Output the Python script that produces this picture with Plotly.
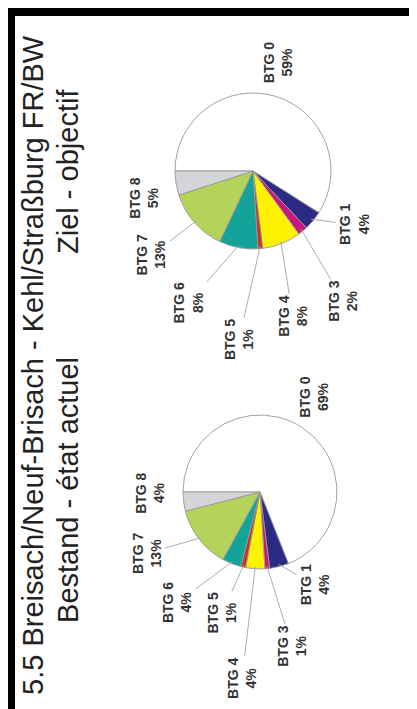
import math
import plotly.graph_objects as go

# ---------------- data ----------------
categories = ["BTG 0", "BTG 1", "BTG 3", "BTG 4", "BTG 5", "BTG 6", "BTG 7", "BTG 8"]
bestand_values = [69, 4, 1, 4, 1, 4, 13, 4]
ziel_values = [59, 4, 2, 8, 1, 8, 13, 5]
title_main = "5.5 Breisach/Neuf-Brisach - Kehl/Straßburg FR/BW"
title_bestand = "Bestand - état actuel"
title_ziel = "Ziel - objectif"

# ---------------- style / layout ----------------
W, H = 417, 709
colors = ["#ffffff", "#2b2a85", "#c8187f", "#fff200", "#c8351e", "#14a39a", "#b4d35a", "#d3d5d8"]
ROT = 270  # first slice starts at 9 o'clock (chart is shown rotated)

pies = [
    dict(name="Bestand", values=bestand_values, cx=252, cy=484, r=77,
         shift=[-2, -19, -8.5, 0, 2, 13, 8, 6.6],
         dist=[1.45, 1.45, 2.06, 2.42, 1.63, 1.75, 1.6, 1.35]),
    dict(name="Ziel", values=ziel_values, cx=245, cy=163, r=78,
         shift=[0, -13, 3, 4, 8, 13, 0, -6],
         dist=[1.44, 1.54, 2.08, 1.95, 2.17, 1.85, 1.63, 1.36]),
]
leader = [False, True, True, True, True, True, True, False]

LABEL_SIZE = 14
TITLE_SIZE = 29
ROT_FIX = 0.45  # horizontal correction for rotated text boxes (fraction of font size)

label_font = dict(family="Liberation Sans Narrow, Arial Narrow, Liberation Sans, Arial",
                  size=LABEL_SIZE, color="#333333", weight="bold")
title_font = dict(family="Liberation Sans, Arial", size=TITLE_SIZE, color="#222222")

fig = go.Figure()
annotations = []

for p in pies:
    cx, cy, r = p["cx"], p["cy"], p["r"]
    fig.add_trace(go.Pie(
        labels=categories, values=p["values"], sort=False,
        direction="clockwise", rotation=ROT,
        marker=dict(colors=colors, line=dict(color="#999999", width=0.9)),
        textinfo="none", hoverinfo="label+percent", showlegend=False,
        domain=dict(x=[(cx - r) / W, (cx + r) / W],
                    y=[1 - (cy + r) / H, 1 - (cy - r) / H]),
    ))
    total = sum(p["values"])
    cum = 0
    for i, (cat, v) in enumerate(zip(categories, p["values"])):
        mid = ROT + 360.0 * (cum + v / 2.0) / total
        cum += v
        la = math.radians(mid + p["shift"][i])
        d = p["dist"][i] * r
        tx = cx + d * math.sin(la) - ROT_FIX * LABEL_SIZE
        ty = cy - d * math.cos(la)
        text = f"{cat}<br>{v}%"
        if leader[i]:
            ma = math.radians(mid)
            hx, hy = cx + 0.97 * r * math.sin(ma), cy - 0.97 * r * math.cos(ma)
            annotations.append(dict(
                x=hx / W, y=1 - hy / H, xref="paper", yref="paper",
                ax=tx - hx, ay=ty - hy, axref="pixel", ayref="pixel",
                text=text, textangle=-90, font=label_font,
                showarrow=True, arrowhead=0, arrowwidth=1, arrowcolor="#adadad",
                standoff=0, startstandoff=0, align="center"))
        else:
            annotations.append(dict(
                x=tx / W, y=1 - ty / H, xref="paper", yref="paper",
                text=text, textangle=-90, font=label_font, showarrow=False,
                xanchor="center", yanchor="middle", align="center"))

# titles (rotated, as in the reference)
tfix = ROT_FIX * TITLE_SIZE
for txt, x, y in [(title_main, 38, 357), (title_bestand, 73, 482), (title_ziel, 73, 163)]:
    annotations.append(dict(x=(x - tfix) / W, y=1 - y / H, xref="paper", yref="paper",
                            text=txt, textangle=-90, font=title_font,
                            showarrow=False, xanchor="center", yanchor="middle"))

fig.update_layout(
    width=W, height=H, autosize=False,
    margin=dict(l=0, r=0, t=0, b=0),
    paper_bgcolor="#000000",
    annotations=annotations,
    shapes=[dict(type="rect", xref="paper", yref="paper", layer="below",
                 x0=7 / W, x1=412 / W, y0=4 / H, y1=1 - 8 / H,
                 fillcolor="#ffffff", line=dict(width=0))],
)

fig.write_html("out.html")
